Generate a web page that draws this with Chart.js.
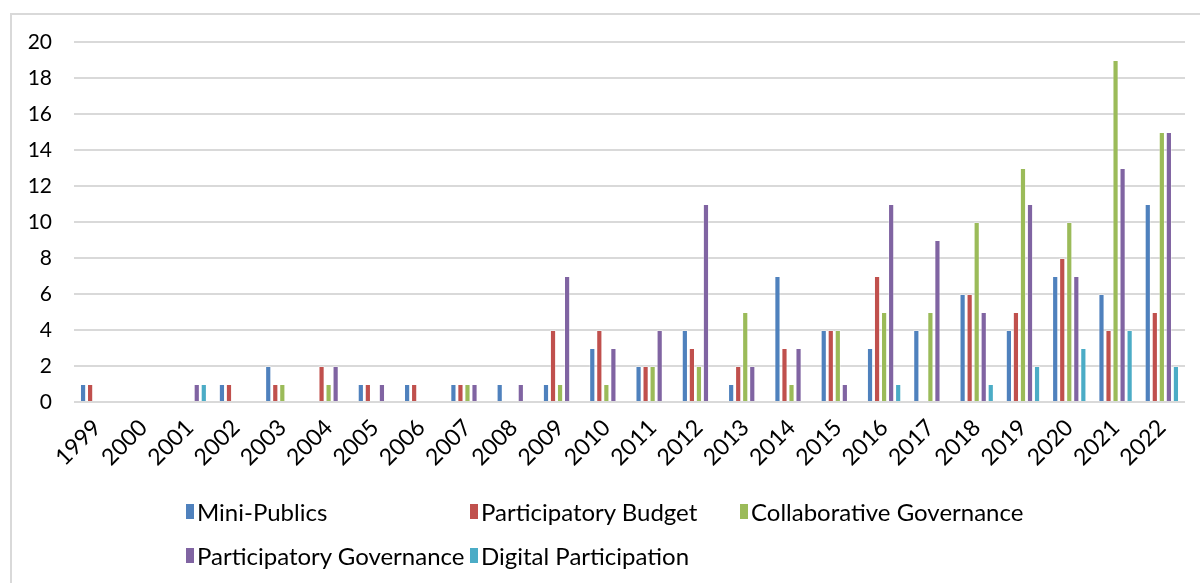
<!DOCTYPE html>
<html>
<head>
<meta charset="utf-8">
<script src="https://cdn.jsdelivr.net/npm/chart.js@4/dist/chart.umd.min.js"></script>
<style>
  html, body { margin: 0; padding: 0; background: #fff; }
  #wrap { position: relative; width: 1200px; height: 583px; overflow: hidden; }
  #frame { position: absolute; left: 10px; top: 13px; width: 1200px; height: 600px; border: 2px solid #d9d9d9; box-sizing: border-box; }
  canvas { position: absolute; left: 0; top: 0; }
  #legend { position: absolute; left: 186px; top: 497px; display: grid; grid-template-columns: 284px 270px 320px; row-gap: 16px; font-family: Lato, sans-serif; font-size: 24px; color: #000; }
  #legend div { display: flex; align-items: center; height: 28px; white-space: nowrap; }
  #legend span.key { display: inline-block; width: 8px; height: 15px; margin-right: 3px; }
</style>
</head>
<body>
<div id="wrap">
  <div id="frame"></div>
  <canvas id="chart" width="1200" height="583"></canvas>
  <div id="legend"></div>
</div>
<script>
// years on the x axis
const years = ['1999', '2000', '2001', '2002', '2003', '2004', '2005', '2006', '2007', '2008', '2009', '2010',
  '2011', '2012', '2013', '2014', '2015', '2016', '2017', '2018', '2019', '2020', '2021', '2022'];

// counts per year for each type
const miniPublics =      [1, 0, 0, 1, 2, 0, 1, 1, 1, 1, 1, 3, 2, 4, 1, 7, 4, 3, 4, 6, 4, 7, 6, 11];
const partBudget =       [1, 0, 0, 1, 1, 2, 1, 1, 1, 0, 4, 4, 2, 3, 2, 3, 4, 7, 0, 6, 5, 8, 4, 5];
const collabGovernance = [0, 0, 0, 0, 1, 1, 0, 0, 1, 0, 1, 1, 2, 2, 5, 1, 4, 5, 5, 10, 13, 10, 19, 15];
const partGovernance =   [0, 0, 1, 0, 0, 2, 1, 0, 1, 1, 7, 3, 4, 11, 2, 3, 1, 11, 9, 5, 11, 7, 13, 15];
const digitalPart =      [0, 0, 1, 0, 0, 0, 0, 0, 0, 0, 0, 0, 0, 0, 0, 0, 0, 1, 0, 1, 2, 3, 4, 2];

const seriesNames = ['Mini-Publics', 'Participatory Budget', 'Collaborative Governance',
  'Participatory Governance', 'Digital Participation'];
const seriesColors = ['#4f81bd', '#c0504d', '#9bbb59', '#8064a2', '#4bacc6'];
const seriesData = [miniPublics, partBudget, collabGovernance, partGovernance, digitalPart];

// y axis ticks 0..20 step 2
const yMax = 20;
const yStep = 2;

const ctx = document.getElementById('chart').getContext('2d');

const chartData = {
  labels: years,
  datasets: seriesNames.map((name, i) => ({
    label: name,
    data: seriesData[i],
    backgroundColor: seriesColors[i],
    borderColor: 'rgba(255,255,255,0.35)',
    borderWidth: { left: 1, right: 1, top: 1, bottom: 0 },
    categoryPercentage: 0.76,
    barPercentage: 0.88,
  })),
};

const chartOptions = {
  responsive: false,
  animation: false,
  layout: { padding: { left: 0, top: 42, right: 15, bottom: 0 } },
  scales: {
    x: {
      grid: { display: false },
      border: { display: false },
      ticks: {
        color: '#000',
        font: { family: 'Lato', size: 23 },
        minRotation: 45,
        maxRotation: 45,
        padding: 4,
        autoSkip: false,
      },
      afterFit: (scale) => { scale.height = 181; },
    },
    y: {
      min: 0,
      max: yMax,
      ticks: {
        stepSize: yStep,
        color: '#000',
        font: { family: 'Lato', size: 21 },
        padding: 22,
      },
      grid: { color: '#d9d9d9', lineWidth: 2, drawTicks: false },
      border: { display: false },
      afterFit: (scale) => { scale.width = 74; },
    },
  },
  plugins: {
    legend: { display: false },
    tooltip: { enabled: false },
  },
};

const chart = new Chart(ctx, {
  type: 'bar',
  data: chartData,
  options: chartOptions,
});

// legend laid out in columns like the original
const legendBox = document.getElementById('legend');
chart.data.datasets.forEach((ds) => {
  const item = document.createElement('div');
  const key = document.createElement('span');
  key.className = 'key';
  key.style.background = ds.backgroundColor;
  item.appendChild(key);
  item.appendChild(document.createTextNode(ds.label));
  legendBox.appendChild(item);
});
</script>
</body>
</html>
